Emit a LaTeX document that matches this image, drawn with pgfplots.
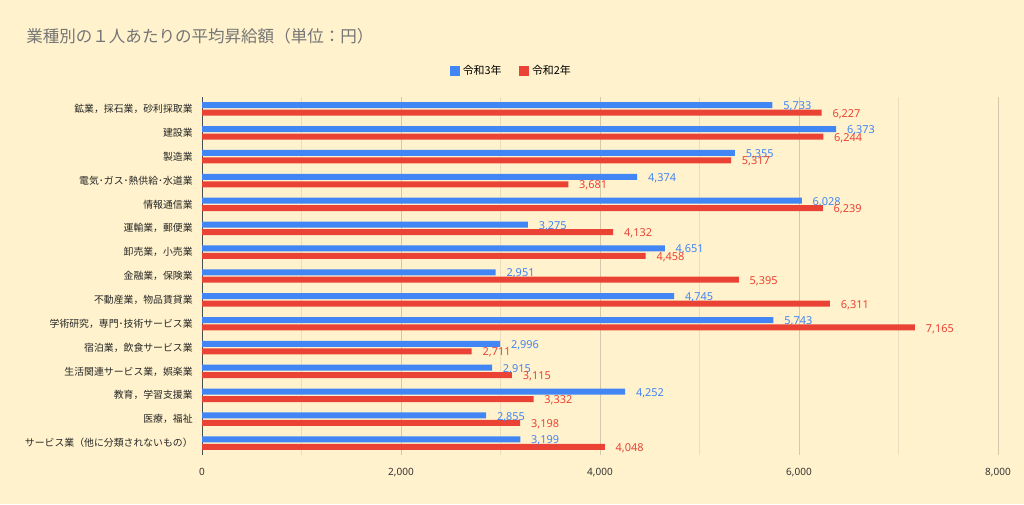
\documentclass[border=0pt]{standalone}
\usepackage{fontspec}
\setmainfont{Noto Sans CJK JP}
\newfontfamily\numfont{Noto Sans}
\usepackage{pgfplots}
\pgfplotsset{compat=1.18}

\definecolor{bg}{HTML}{FFF2CC}
\definecolor{blu}{HTML}{4285F4}
\definecolor{rd}{HTML}{EA4335}
\definecolor{ttl}{HTML}{757575}
\definecolor{majg}{HTML}{D3C9AB}
\definecolor{ming}{HTML}{E9DEBD}

\pgfplotsset{/pgf/number format/.cd, 1000 sep={,}, assume math mode=true}

\begin{document}
\begin{tikzpicture}
\useasboundingbox (0pt,0pt) rectangle (768pt,378pt);
\fill[bg] (0pt,0pt) rectangle (768pt,378pt);
\node[anchor=west, text=ttl, inner sep=0pt, font=\fontsize{12.4}{14}\selectfont] at (19.5pt,350.5pt) {業種別の１人あたりの平均昇給額（単位：円）};

% categories listed bottom (0) to top (14)
\begin{axis}[
    at={(151.5pt,36.75pt)}, anchor=south west,
    scale only axis, width=597pt, height=268.5pt,
    xbar, bar width=4.5pt,
    xmin=0, xmax=8000, ymin=-0.5, ymax=14.5,
    ytick={0,...,14},
    yticklabels={
        サービス業（他に分類されないもの）,
        医療，福祉,
        教育，学習支援業,
        生活関連サービス業，娯楽業,
        宿泊業，飲食サービス業,
        学術研究，専門･技術サービス業,
        不動産業，物品賃貸業,
        金融業，保険業,
        卸売業，小売業,
        運輸業，郵便業,
        情報通信業,
        電気･ガス･熱供給･水道業,
        製造業,
        建設業,
        鉱業，採石業，砂利採取業},
    xtick={0,2000,4000,6000,8000},
    minor xtick={1000,3000,5000,7000},
    xmajorgrids, xminorgrids,
    major grid style={majg, line width=0.6pt},
    minor grid style={ming, line width=0.6pt},
    axis x line*=bottom, axis y line*=left,
    x axis line style={draw=none},
    y axis line style={draw=black!70, line width=0.75pt},
    tick style={draw=none},
    minor tick style={draw=none},
    yticklabel style={font=\fontsize{7.4}{9}\selectfont, text=black!85, inner sep=0pt, xshift=-2.5pt},
    xticklabel style={font=\numfont\fontsize{7.5}{9}\selectfont, text=black!80, inner sep=0pt, yshift=-9.5pt},
    nodes near coords,
    point meta=x,
    legend style={at={(0.389,1.073)}, anchor=center, draw=none, fill=none,
        legend columns=2, font=\fontsize{8.2}{9}\selectfont,
        /tikz/every even column/.append style={column sep=11pt}},
    legend image code/.code={\fill[#1,draw=none] (0pt,-3.9pt) rectangle (7.8pt,3.9pt);},
]
\addplot[fill=blu, draw=none, bar shift=2.8pt,
    every node near coord/.append style={font=\numfont\fontsize{8.2}{9}\selectfont, text=blu, anchor=west, inner sep=0pt, xshift=8pt, yshift=-1pt}]
    coordinates {
    (3199,0) (2855,1) (4252,2) (2915,3) (2996,4) (5743,5) (4745,6) (2951,7)
    (4651,8) (3275,9) (6028,10) (4374,11) (5355,12) (6373,13) (5733,14)
};
\addlegendentry{令和3年}
\addplot[fill=rd, draw=none, bar shift=-2.8pt,
    every node near coord/.append style={font=\numfont\fontsize{8.2}{9}\selectfont, text=rd, anchor=west, inner sep=0pt, xshift=8pt, yshift=-1pt}]
    coordinates {
    (4048,0) (3198,1) (3332,2) (3115,3) (2711,4) (7165,5) (6311,6) (5395,7)
    (4458,8) (4132,9) (6239,10) (3681,11) (5317,12) (6244,13) (6227,14)
};
\addlegendentry{令和2年}
\end{axis}
\end{tikzpicture}
\end{document}
